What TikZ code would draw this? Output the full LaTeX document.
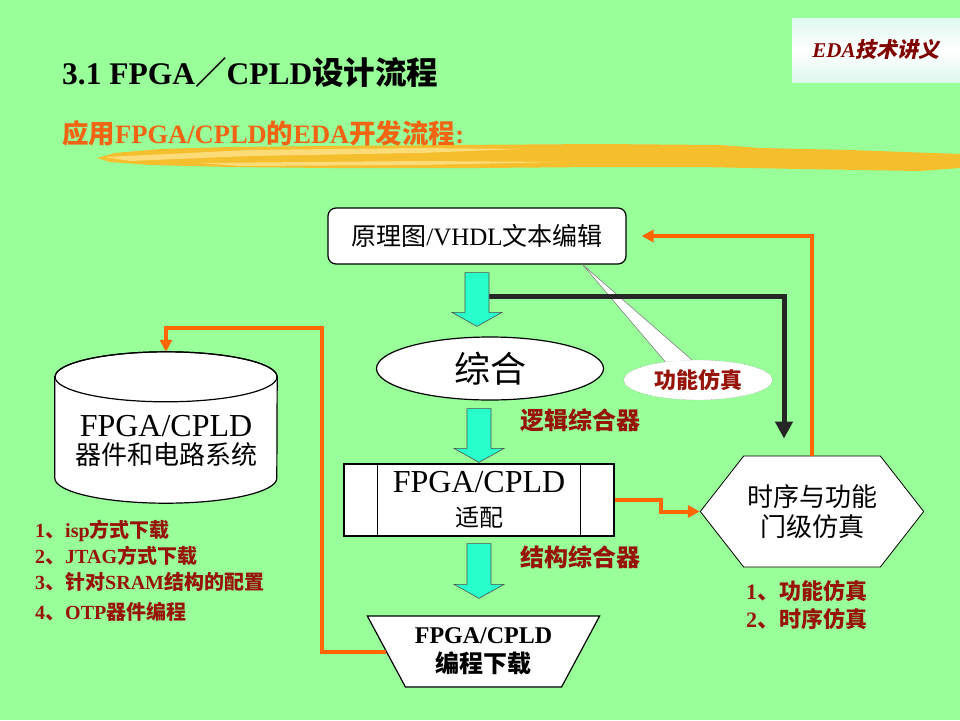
\documentclass[tikz,border=0pt]{standalone}
\usepackage{fontspec}
\setmainfont{Liberation Serif}
\newfontfamily\cjk{Noto Sans CJK SC}
\newfontfamily\cjkslant{Noto Sans CJK SC}[FakeSlant=0.2]
\usepackage{xcolor}
\usetikzlibrary{shapes, shapes.symbols, arrows.meta, positioning, calc}

\definecolor{bggreen}{RGB}{153,255,153}
\definecolor{arrowcyan}{RGB}{40,255,204}
\definecolor{lineorange}{RGB}{255,102,0}
\definecolor{suborange}{RGB}{240,100,20}
\definecolor{textred}{RGB}{150,20,10}
\definecolor{badgered}{RGB}{128,0,0}
\definecolor{badgemint}{RGB}{222,248,238}
\definecolor{brushyellow}{RGB}{245,190,45}
\definecolor{brushlight}{RGB}{252,220,120}

% fat cyan arrow between two anchors, gaps at both ends
\newcommand{\fatarrow}[4]{%
  \filldraw[cyanfill] let \p1=(#1), \p2=(#2) in
    (\x1-12pt,\y1-#3) -- (\x1+12pt,\y1-#3) -- (\x1+12pt,\y2+#4+14pt) -- (\x1+25pt,\y2+#4+14pt)
    -- (\x1,\y2+#4) -- (\x1-25pt,\y2+#4+14pt) -- (\x1-12pt,\y2+#4+14pt) -- cycle;}

\begin{document}
\begin{tikzpicture}[x=1pt, y=-1pt,
    whitebox/.style={draw, fill=white, line width=1.2pt},
    cyanfill/.style={fill=arrowcyan, draw=black!70, line width=0.6pt},
    orangeline/.style={draw=lineorange, line width=4pt, -{Triangle[length=12pt,width=12pt]}},
    blackline/.style={draw=black!85, line width=5pt, -{Triangle[length=17pt,width=17pt]}},
    redlabel/.style={text=textred, inner sep=0pt}]

    \fill[bggreen] (0,0) rectangle (960,720);
    \useasboundingbox (0,0) rectangle (960,720);

    % brush stroke under the subtitle
    \fill[brushyellow] (97,158) -- (115,153) -- (160,149) -- (230,147) -- (330,146) -- (450,145) -- (600,144)
        -- (720,145) -- (760,148) -- (850,150) -- (960,154) -- (960,168) -- (920,171) -- (800,169)
        -- (700,167) -- (600,167) -- (480,168) -- (330,168) -- (230,167) -- (150,165) -- (110,162) -- cycle;
    \fill[brushlight] (105,157) -- (250,150) -- (420,148) -- (520,149) -- (420,153) -- (250,156) -- (130,161) -- cycle;
    \fill[brushlight] (200,163) -- (420,161) -- (560,162) -- (420,165) -- (240,166) -- cycle;

    % headings
    \node[anchor=base west, inner sep=0pt, font=\bfseries\fontsize{31.5}{36}\selectfont] (title) at (62,84)
        {3.1 FPGA{\cjk ／}CPLD{\cjk 设计流程}};
    \node[anchor=base west, inner sep=0pt, text=suborange, font=\bfseries\fontsize{26.5}{30}\selectfont] (subtitle) at (62,143)
        {{\cjk 应用}FPGA/CPLD{\cjk 的}EDA{\cjk 开发流程}:};
    \node[minimum width=168pt, minimum height=64pt, top color=badgemint, bottom color=badgemint, middle color=white,
        text=badgered, font=\bfseries\fontsize{21}{25}\selectfont] (badge) at (876,50)
        {\itshape EDA{\upshape\cjkslant 技术讲义}};

    % flow
    \node[whitebox, rounded corners=8pt, minimum width=298pt, minimum height=56pt, font=\fontsize{25}{30}\selectfont] (box1) at (477,236)
        {{\cjk 原理图}/VHDL{\cjk 文本编辑}};
    \node[whitebox, ellipse, minimum width=227pt, minimum height=63pt, font=\cjk\fontsize{36}{40}\selectfont] (comp) at (490,368.5) {综合};
    \node[whitebox, minimum width=270pt, minimum height=72pt, align=center, font=\fontsize{32}{34}\selectfont] (fit) at (479,500)
        {FPGA/CPLD\\{\cjk\fontsize{24}{34}\selectfont 适配}};
    \draw[line width=1.2pt] ([xshift=34pt]fit.north west) -- ([xshift=34pt]fit.south west);
    \draw[line width=1.2pt] ([xshift=-34pt]fit.north east) -- ([xshift=-34pt]fit.south east);
    \node[whitebox, trapezium, trapezium left angle=123, trapezium right angle=123, trapezium stretches=true,
        minimum width=233pt, minimum height=71pt, align=center, font=\bfseries\fontsize{24}{29}\selectfont] (prog) at (483.5,651.5)
        {FPGA/CPLD\\{\cjk 编程下载}};
    \node[draw, fill=white, line width=0.8pt, signal, signal to=west and east, signal pointer angle=104,
        minimum width=216pt, minimum height=111pt, align=center, font=\cjk\fontsize{26}{30}\selectfont] (sim) at (812,511.5)
        {时序与功能\\门级仿真};
    \node[minimum width=222pt, minimum height=151pt] (sys) at (166,427.5) {};
    \draw[whitebox] ([yshift=-25pt]sys.north west) -- ([yshift=25pt]sys.south west)
        arc[start angle=180, end angle=360, x radius=111pt, y radius=25pt] -- ([yshift=-25pt]sys.north east)
        arc[start angle=0, end angle=180, x radius=111pt, y radius=25pt] -- cycle;
    \draw[line width=1.2pt] ([yshift=-25pt]sys.north) ellipse [x radius=111pt, y radius=25pt];
    \node[align=center, font=\fontsize{32}{28}\selectfont] (systext) at (166,441)
        {FPGA/CPLD\\{\cjk\fontsize{26}{28}\selectfont 器件和电路系统}};

    % callout
    \node[ellipse, draw=black!50, densely dotted, fill=white, minimum width=149pt, minimum height=40pt,
        text=textred, font=\bfseries\cjk\fontsize{22}{26}\selectfont] (fsim) at (698,380) {功能仿真};
    \coordinate (ptr) at ($(box1.south east)+(-44,0)$);
    \fill[white] (ptr) -- (fsim.151) -- (fsim.107) -- cycle;
    \draw[black!50, line width=0.6pt] (fsim.151) -- (ptr) -- (fsim.107);

    \node[redlabel, anchor=west, font=\bfseries\cjk\fontsize{24}{28}\selectfont] (logic) at (520,420) {逻辑综合器};
    \node[redlabel, anchor=west, font=\bfseries\cjk\fontsize{24}{28}\selectfont] (struct) at (520,557) {结构综合器};

    \node[redlabel, anchor=north west, align=left, font=\bfseries\fontsize{20}{26}\selectfont] (dl) at (35,520)
        {1{\cjk 、}isp{\cjk 方式下载}\\2{\cjk 、}JTAG{\cjk 方式下载}\\3{\cjk 、针对}SRAM{\cjk 结构的配置}\\[4pt]4{\cjk 、}OTP{\cjk 器件编程}};
    \node[redlabel, anchor=north west, align=left, font=\bfseries\fontsize{22}{28}\selectfont] (sl) at (746,580)
        {1{\cjk 、功能仿真}\\2{\cjk 、时序仿真}};

    % connectors
    \coordinate (tapoff) at ($(box1.south)+(12,32)$);
    \coordinate (simin) at ($(sim.north)+(-28,-17)$);
    \draw[blackline] (tapoff) -| (simin);
    \draw[orangeline] (fit.east) -- ++(46,0) |- (sim.west);
    \draw[orangeline] (sim.north) |- ([xshift=15pt]box1.east);
    \draw[orangeline] (prog.west) -| ($(sys.north)+(156,-24)$) -| (sys.north);

    \fatarrow{box1.south}{comp.north}{8pt}{10pt}
    \fatarrow{comp.south -| fit.north}{fit.north}{8pt}{1pt}
    \fatarrow{fit.south}{prog.north}{7pt}{17pt}
\end{tikzpicture}
\end{document}
